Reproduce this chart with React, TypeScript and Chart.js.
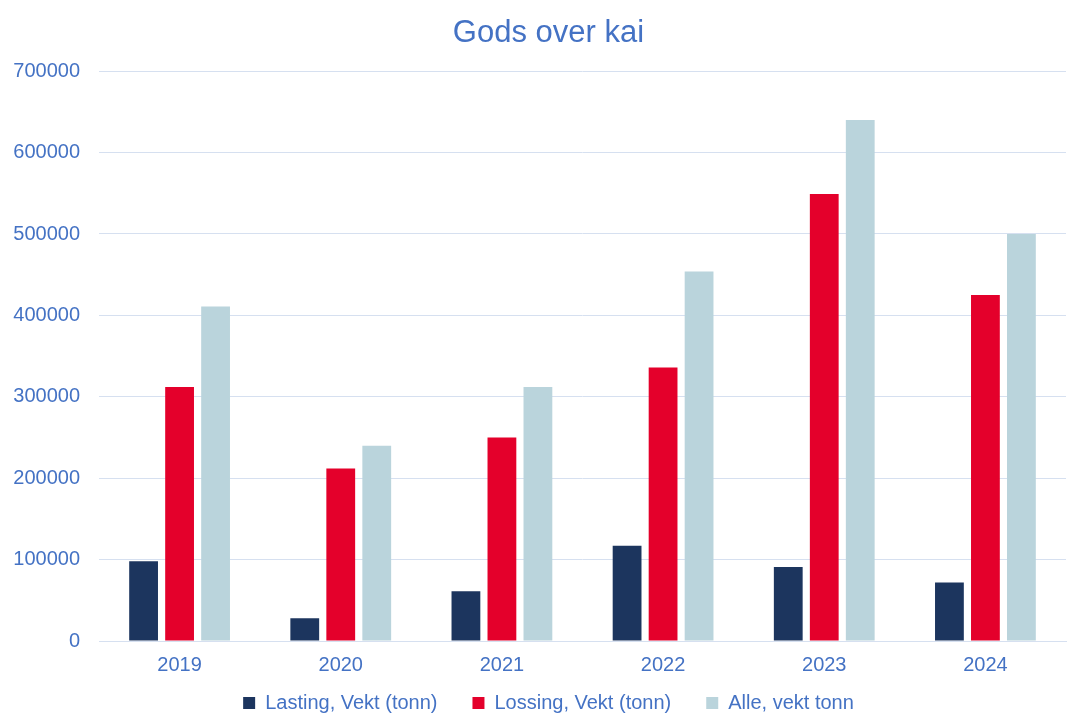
import React, { useEffect, useRef } from "react";
import { Chart, registerables } from "chart.js";

Chart.register(...registerables);

const categories = ["2019", "2020", "2021", "2022", "2023", "2024"];
const lasting = [98000, 28000, 61000, 117000, 91000, 72000];
const lossing = [312000, 212000, 250000, 336000, 549000, 425000];
const alle = [411000, 240000, 312000, 454000, 640000, 500000];
const seriesNames = ["Lasting, Vekt (tonn)", "Lossing, Vekt (tonn)", "Alle, vekt tonn"];
const seriesColors = ["#1C355E", "#E4002B", "#BAD4DC"];
const title = "Gods over kai";

const textColor = "#4472C4";
const gridColor = "#D6E0F0";
const fontFamily = "'Liberation Sans', Arial, sans-serif";

const noClip = (s: any) => {
  s._computeLabelArea = () => undefined;
};

export default function App() {
  const ref = useRef<HTMLCanvasElement | null>(null);
  useEffect(() => {
    if (!ref.current) return;
    const chart = new Chart(ref.current, {
      type: "bar",
      data: {
        labels: categories,
        datasets: [lasting, lossing, alle].map((d, i) => ({
          label: seriesNames[i],
          data: d,
          backgroundColor: seriesColors[i],
          borderWidth: 0,
          categoryPercentage: 0.67,
          barPercentage: 0.8,
        })),
      },
      options: {
        animation: false,
        responsive: false,
        maintainAspectRatio: false,
        layout: { padding: { left: 31, right: 3, top: 0, bottom: 0 } },
        plugins: {
          title: {
            display: true,
            text: title,
            color: textColor,
            font: { family: fontFamily, size: 31, weight: "normal" },
            padding: { top: 15, bottom: 19 },
          },
          legend: {
            position: "bottom",
            labels: {
              color: textColor,
              font: { family: fontFamily, size: 20 },
              boxWidth: 12,
              boxHeight: 12,
              padding: 35,
            },
          },
          tooltip: { enabled: false },
        },
        scales: {
          x: {
            afterFit: (s: any) => {
              s.height = 17;
              noClip(s);
            },
            grid: { display: false, drawTicks: false },
            border: { display: true, color: gridColor, width: 1 },
            ticks: { color: textColor, font: { family: fontFamily, size: 20 }, padding: 12 },
          },
          y: {
            min: 0,
            max: 700000,
            afterFit: (s: any) => {
              s.width = 68;
              noClip(s);
            },
            grid: { color: gridColor, drawTicks: false, lineWidth: 1 },
            border: { display: false },
            ticks: {
              stepSize: 100000,
              color: textColor,
              font: { family: fontFamily, size: 20 },
              padding: 19,
              callback: (v: any) => String(v),
            },
          },
        },
      },
    });
    return () => chart.destroy();
  }, []);
  return (
    <div style={{ position: "absolute", left: 0, top: 0, width: 1069, height: 713, overflow: "hidden", background: "#fff" }}>
      <canvas ref={ref} width={1069} height={723} style={{ display: "block" }} />
    </div>
  );
}
